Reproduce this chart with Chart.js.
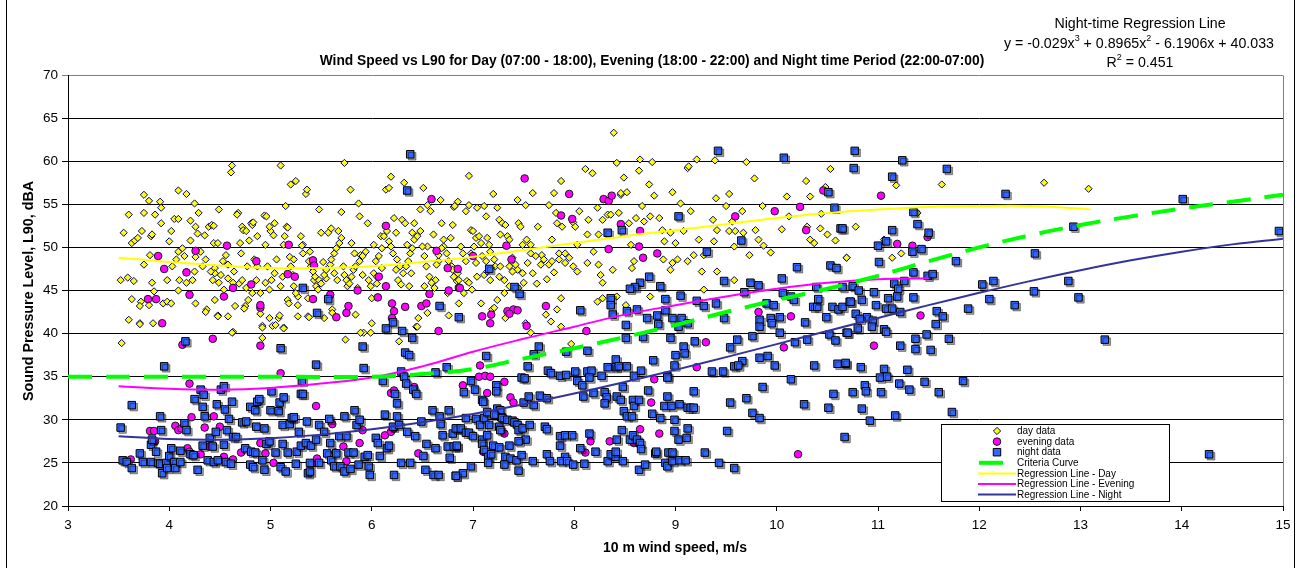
<!DOCTYPE html>
<html>
<head>
<meta charset="utf-8">
<title>Wind Speed vs L90</title>
<script src="https://cdn.jsdelivr.net/npm/chart.js@4.4.1/dist/chart.umd.min.js"></script>
<style>
  html, body { margin: 0; padding: 0; background: #fff; }
  #wrap { width: 1300px; height: 568px; position: relative; }
</style>
</head>
<body>
<div id="wrap"><canvas id="windChart" width="1300" height="568"></canvas></div>
<script>
// Dados: [velocidade do vento m/s, L90 dBA]
const dayData = [
  [3.53,38.9],[3.55,51.7],[3.52,46.2],[3.60,53.8],[3.59,46.5],[3.65,46.1],[3.63,50.5],[3.66,50.8],[3.69,51.1],[3.73,51.9],
  [3.75,56.1],[3.80,55.4],[3.75,54.0],[3.86,53.8],[3.91,55.3],[3.92,54.6],[3.82,51.3],[3.83,51.5],[3.81,49.1],[3.75,48.0],
  [3.72,43.7],[3.71,43.2],[3.63,44.0],[3.71,41.2],[3.60,41.6],[3.84,41.2],[3.83,45.9],[3.85,44.9],[3.80,43.3],[3.94,43.5],
  [3.92,52.8],[4.00,50.7],[4.02,51.9],[4.05,53.3],[4.09,56.6],[4.17,56.2],[4.09,53.3],[4.09,49.5],[4.10,46.2],[4.09,45.0],
  [3.98,46.2],[3.98,43.7],[4.02,43.5],[4.17,45.9],[4.17,47.2],[4.21,53.1],[4.25,55.1],[4.26,52.4],[4.28,51.6],[4.29,54.0],
  [4.21,50.8],[4.26,48.9],[4.25,47.2],[4.23,46.2],[4.26,43.5],[4.35,51.4],[4.36,48.6],[4.37,42.8],[4.39,52.4],[4.42,52.6],
  [4.44,52.5],[4.44,50.5],[4.48,50.5],[4.49,54.4],[4.45,47.6],[4.45,47.0],[4.45,43.9],[4.48,42.1],[4.51,46.8],[4.54,45.1],
  [4.56,49.1],[4.58,48.0],[4.58,46.4],[4.58,42.0],[4.62,59.5],[4.61,58.7],[4.63,40.2],[4.65,43.2],[4.68,54.0],[4.67,53.8],
  [4.69,45.8],[4.70,50.5],[4.72,52.4],[4.73,52.0],[4.75,43.2],[4.77,47.8],[4.79,50.8],[4.81,52.8],[4.82,52.6],[4.83,52.9],
  [4.78,43.9],[4.82,44.7],[4.87,47.8],[4.90,44.7],[4.90,42.3],[4.92,40.9],[4.92,39.5],[4.92,40.7],[4.94,53.7],[4.95,50.3],
  [4.96,53.6],[5.00,51.9],[5.03,51.4],[5.01,46.2],[4.95,45.9],[5.02,40.9],[5.08,41.8],[5.10,59.5],[5.09,42.1],[5.13,40.7],
  [5.13,50.3],[5.14,51.3],[5.16,52.4],[5.17,52.3],[5.20,57.3],[5.15,54.8],[5.17,43.9],[5.18,43.5],[5.19,48.9],[5.23,45.5],
  [5.25,57.7],[5.27,44.3],[5.30,51.3],[5.32,50.3],[5.35,56.2],[5.36,56.7],[5.37,44.1],[5.37,42.0],[5.39,49.5],[5.43,46.2],
  [5.45,45.5],[5.47,45.1],[5.48,54.4],[5.50,51.7],[5.52,48.3],[5.55,46.4],[5.57,51.7],[5.60,52.2],[5.61,42.8],[5.63,47.0],
  [5.66,46.2],[5.67,51.9],[5.70,54.1],[5.73,59.8],[5.74,39.3],[5.76,45.5],[5.79,56.7],[5.80,50.5],[5.83,49.3],[5.86,45.3],
  [5.87,55.1],[5.88,53.6],[5.89,49.1],[5.91,46.8],[5.92,40.1],[5.96,52.8],[5.99,40.1],[6.00,44.1],[6.02,50.3],[6.04,48.4],
  [6.05,45.8],[6.09,51.3],[6.10,47.6],[6.14,56.7],[6.17,56.9],[6.19,58.2],[6.22,53.4],[6.24,51.7],[6.25,48.6],[6.27,39.1],
  [6.28,47.8],[6.30,53.2],[6.32,57.5],[6.33,52.8],[6.35,50.3],[6.37,45.5],[6.39,47.0],[6.40,51.7],[6.42,52.8],[6.44,40.8],
  [6.46,41.8],[6.48,54.4],[6.51,56.9],[6.52,45.5],[6.55,54.9],[6.55,50.1],[6.58,54.2],[6.61,51.5],[6.63,46.2],[6.66,48.4],
  [6.68,55.5],[6.69,52.8],[6.71,50.1],[6.75,44.7],[6.76,42.1],[6.78,51.1],[6.81,54.7],[6.85,55.3],[6.86,43.5],
  [5.31,50.2],[5.32,49.3],[5.38,48.4],[5.40,47.8],[5.42,47.2],[5.44,46.6],[5.48,46.2],[5.50,45.8],[5.53,46.8],[5.55,47.4],
  [5.59,48.0],[5.60,48.6],[5.63,49.3],[5.65,49.9],[5.68,50.5],[5.70,51.1],[5.72,47.8],[5.73,46.8],[5.75,46.2],[5.78,45.8],
  [5.80,46.6],[5.82,47.4],[5.84,47.8],[5.88,48.4],[5.91,49.0],[5.94,49.5],[5.97,46.2],[5.99,45.5],[6.02,47.0],[6.05,46.6],
  [6.07,49.0],[6.10,49.9],[6.12,51.3],[6.15,51.9],[6.17,50.7],[6.19,50.1],[6.21,49.3],[6.24,47.4],[6.26,46.2],[6.29,45.7],
  [6.31,47.0],[6.34,47.8],[6.36,48.4],[6.38,49.3],[6.40,49.9],[6.42,50.9],[6.45,51.3],[6.48,51.9],[6.50,50.1],[6.52,49.0],
  [6.54,47.8],[6.57,46.6],[6.59,45.9],[6.62,45.3],[6.64,48.0],[6.66,49.1],[6.69,49.9],[6.71,50.9],[6.74,49.3],[6.76,48.4],
  [6.79,47.8],[6.81,46.6],[6.84,46.1],[6.86,45.5],
  [4.03,47.8],[4.07,48.6],[4.13,49.9],[4.15,49.0],[4.31,49.5],[4.33,47.8],[4.41,47.2],[4.43,46.2],[4.49,45.9],[4.53,48.4],
  [4.63,45.9],[4.64,47.2],[4.71,49.3],[4.72,46.2],[4.76,45.3],[4.84,48.6],[4.86,46.2],[4.97,47.8],[4.99,45.1],[5.04,47.0],
  [5.06,48.6],[5.10,45.5],[5.12,46.6],[5.20,47.8],[5.22,46.8],[5.23,48.6],[5.25,44.7],[5.27,43.3],[4.99,52.4],[5.04,52.8],
  [4.87,51.3],[4.76,51.9],
  [3.71,41.1],[4.62,40.1],[5.89,40.1],[6.45,40.8],[4.36,42.5],[4.48,42.0],[4.74,42.9],[4.99,41.8],[5.05,41.0],[5.13,40.6],
  [5.27,42.0],[5.38,41.9],[5.53,41.8],[5.61,42.4],[5.84,42.2],[6.00,41.2],[6.55,42.4],
  [6.80,52.6],[6.82,54.8],[6.93,54.2],[6.96,58.3],[6.96,54.9],[6.98,52.0],[7.00,51.9],[7.03,51.1],[7.04,54.6],[7.06,51.3],
  [7.08,50.5],[7.11,54.8],[7.13,53.6],[7.14,51.1],[7.16,50.3],[7.17,49.5],[7.20,56.2],[7.24,54.6],[7.26,53.2],[7.27,51.5],
  [7.29,52.8],[7.32,52.6],[7.34,51.3],[7.36,50.9],[7.39,48.8],[7.44,55.5],[7.45,52.8],[7.47,52.4],[7.49,50.3],[7.52,54.9],
  [7.53,50.9],[7.57,50.3],[7.59,56.3],[7.64,52.4],[7.68,49.1],[7.75,54.9],[7.78,50.9],[7.80,56.3],[7.82,54.0],[7.83,52.8],
  [7.85,49.3],[7.87,57.7],[7.88,52.4],[7.91,49.3],[7.95,48.8],[7.99,52.9],[8.01,52.4],[8.03,50.3],[8.05,54.2],[8.11,59.1],
  [8.13,51.5],[8.14,53.2],[8.18,58.6],[8.19,49.5],[8.23,54.6],[8.24,51.5],[8.28,53.2],[8.33,53.8],[8.36,53.8],[8.39,63.3],
  [8.42,59.8],[8.44,54.0],[8.46,56.1],[8.46,56.3],[8.49,58.1],[8.52,56.4],[8.54,52.8],[8.56,50.3],[8.61,53.4],[8.64,58.9],
  [8.65,60.2],[8.67,54.8],[8.69,53.0],[8.74,57.3],[8.75,53.6],[8.77,59.9],[8.79,56.0],[8.84,53.4],[8.87,52.0],[8.89,50.7],
  [8.95,51.7],[8.97,56.4],[9.00,50.5],[9.05,55.1],[9.08,51.9],[9.12,59.2],[9.13,59.4],[9.15,54.2],[9.21,60.2],[9.23,50.9],
  [9.28,49.1],[9.37,53.2],[9.38,50.7],[9.39,60.1],[9.40,55.7],[9.41,52.0],[9.50,54.8],[9.53,51.9],[9.53,56.2],[9.56,53.0],
  [9.58,50.1],[9.59,51.9],[9.66,54.2],[9.67,51.7],[9.70,59.9],[9.73,49.1],[9.78,58.0],[9.79,52.0],[9.82,50.9],[9.86,54.8],
  [9.87,50.2],[9.94,49.4],[10.05,52.1],[10.10,55.9],[10.12,53.6],[10.29,57.7],[10.30,52.4],[10.33,55.9],[10.33,50.9],[10.37,50.5],
  [10.43,52.2],[10.44,53.9],[10.48,57.0],[10.50,51.5],[10.53,59.1],[10.58,50.8],[10.69,48.8],
  [6.80,47.4],[6.85,47.0],[6.86,46.2],[6.91,44.7],[6.94,46.1],[6.96,45.9],[6.99,45.1],[7.03,48.2],[7.04,46.6],[7.08,43.5],
  [7.11,46.8],[7.13,48.4],[7.14,47.2],[7.19,42.8],[7.21,43.0],[7.24,43.9],[7.26,46.6],[7.31,44.7],[7.32,41.8],[7.36,45.5],
  [7.44,47.4],[7.45,45.3],[7.50,45.9],[7.52,41.2],[7.57,40.1],[7.59,47.0],[7.63,45.8],[7.72,42.2],[7.73,46.3],[7.77,41.4],
  [7.80,47.1],[7.83,42.8],[7.85,48.6],[7.87,40.8],[7.87,44.1],[7.91,48.2],[7.99,47.8],[8.03,47.2],[8.13,48.2],[8.23,43.7],
  [8.24,48.0],[8.26,46.8],[8.28,45.9],[8.28,44.1],[8.38,47.4],[8.42,44.3],[8.51,43.3],[8.57,47.6],[8.59,48.4],[8.75,44.3],
  [8.88,48.6],[8.95,47.4],[8.97,48.2],[9.02,48.6],[9.12,48.4],[9.18,49.1],[9.26,47.2],[9.28,45.1],[9.41,47.2],[9.58,46.2],
  [7.97,38.8],
  [6.88,50.1],[6.90,49.3],[7.01,50.1],[7.09,49.0],[7.21,48.6],[7.22,47.8],[7.27,47.8],[7.36,47.8],[7.39,47.2],[7.42,48.0],
  [7.54,48.2],[7.57,49.3],[7.62,49.0],[7.67,48.0],[7.70,48.6],[7.75,48.0],[7.78,48.4],[6.98,49.3],[6.93,48.4],[7.17,46.2],
  [7.31,46.2],[7.49,47.0],
  [11.18,57.2],[11.63,57.3],[12.64,57.5],[13.08,56.8],[10.78,52.4],[11.39,54.0],[10.69,48.8],[11.14,48.8],[11.23,49.3],[11.06,50.9]
];

const eveningData = [
  [3.89,49.0],[3.95,47.5],[3.79,44.0],[3.87,44.0],[3.93,41.2],[4.20,44.5],[4.17,47.1],[4.26,49.6],[4.13,38.7],[4.43,39.4],
  [4.54,44.3],[4.57,50.2],[4.63,45.3],[4.81,45.7],[4.86,48.4],[4.90,43.0],[4.90,43.3],[4.90,38.6],[5.10,35.4],[5.18,50.3],
  [5.17,46.9],[5.24,46.6],[5.42,48.5],[5.43,47.9],[5.42,44.0],[5.59,44.5],[5.65,41.9],[5.75,42.4],[5.77,43.2],[5.86,45.0],
  [6.07,46.6],[6.06,44.2],[6.14,52.5],[6.14,45.5],[6.20,43.5],[6.22,42.6],[6.20,41.8],[6.33,43.1],[6.49,43.2],[6.54,43.5],
  [6.57,44.6],[6.59,55.6],[6.64,49.6],[6.66,40.3],[6.76,45.0],[6.75,47.6],[6.86,45.3],
  [3.62,25.4],[3.81,28.7],[3.85,28.7],[3.86,27.5],[4.06,29.3],[4.09,28.8],[4.12,29.0],[4.20,34.2],[4.22,30.3],[4.18,26.7],
  [4.20,26.3],[4.31,26.0],[4.35,29.1],[4.44,30.4],[4.50,29.2],[4.54,25.7],[4.39,26.9],[4.71,26.2],[4.63,25.4],[4.90,27.3],
  [4.95,26.1],[5.03,25.0],[5.45,31.6],[5.43,25.0],[5.46,25.5],[5.61,29.5],[5.64,26.2],[5.72,26.9],[5.75,25.2],[5.91,28.8],
  [5.88,27.3],[6.13,28.2],[6.19,33.1],[6.22,33.4],[6.42,33.8],[6.46,26.1],[6.19,28.6],[6.22,29.0],
  [7.51,58.0],[7.95,56.2],[8.29,55.6],[8.34,55.4],[8.37,56.0],[7.87,53.7],[7.98,53.3],[8.46,52.7],[8.65,51.9],[7.33,50.2],
  [7.38,48.6],[7.00,49.0],[8.34,49.8],[8.64,50.1],[8.68,48.8],[8.82,49.3],[6.85,47.5],[6.87,45.3],[7.34,42.6],[7.40,42.8],
  [7.44,42.7],[7.36,42.3],[7.18,42.2],[7.17,41.2],[7.09,42.0],[7.53,40.9],[7.72,43.2],[8.12,40.3],[7.07,36.3],[9.98,54.2],
  [10.23,54.7],[9.59,53.6],[10.29,52.0],[10.46,56.6],[9.82,42.5],[10.14,42.0],[9.30,39.0],[10.07,38.4],[9.21,36.1],
  [6.90,34.0],[7.06,35.0],[7.12,35.1],[7.17,35.0],[7.14,33.1],[7.31,34.4],[7.37,32.6],[7.40,32.0],[7.31,28.4],[7.10,26.3],
  [8.16,27.5],[8.11,26.2],[8.35,27.5],[8.59,27.3],[8.65,28.9],[8.84,28.4],[8.76,32.0],[8.79,34.7],[10.21,26.0],
  [11.03,56.0],[11.19,50.4],[11.34,50.2],[11.49,51.2],[11.42,42.1],[10.96,38.6]
];

const nightData = [
  [3.52,29.1],[3.54,25.3],[3.58,25.1],[3.63,24.4],[3.63,31.7],[3.71,26.1],[3.74,25.1],[3.82,25.1],[3.82,27.1],[3.83,27.7],
  [3.87,26.3],[3.89,25.0],[3.91,24.9],[3.92,28.8],[3.91,30.4],[3.93,23.8],[3.95,36.2],[3.97,25.0],[3.98,24.4],[4.00,25.8],
  [4.02,26.7],[4.05,25.1],[4.06,24.4],[4.11,25.1],[4.11,26.4],[4.15,29.6],[4.16,39.1],[4.17,28.8],[4.21,26.0],[4.24,25.9],
  [4.25,32.4],[4.28,24.2],[4.31,33.5],[4.33,27.0],[4.33,31.5],[4.34,32.9],[4.35,30.4],[4.38,25.3],[4.40,27.9],[4.43,26.9],
  [4.44,25.1],[4.47,31.8],[4.46,28.6],[4.48,25.3],[4.51,33.5],[4.54,27.1],[4.54,33.9],[4.55,31.2],[4.56,25.1],[4.57,28.8],
  [4.59,30.1],[4.61,24.9],[4.62,32.1],[4.63,28.0],[4.66,28.0],[4.72,29.7],[4.75,26.7],[4.76,29.8],[4.80,24.8],[4.80,31.5],
  [4.81,26.3],[4.83,24.5],[4.85,26.2],[4.85,31.1],[4.86,29.2],[4.87,32.1],[4.89,32.4],[4.92,25.3],[4.94,24.2],[4.94,29.0],
  [4.96,27.2],[4.99,27.5],[5.00,31.1],[5.01,33.3],[5.05,26.2],[5.08,31.0],[5.09,32.0],[5.10,38.3],[5.10,24.5],[5.12,29.4],
  [5.12,27.2],[5.13,32.6],[5.15,24.0],[5.17,26.2],[5.19,29.5],[5.21,30.2],[5.23,30.3],[5.25,24.9],[5.26,26.3],[5.28,28.6],
  [5.30,27.0],[5.30,33.0],[5.32,33.0],[5.31,34.5],[5.35,27.3],[5.36,29.8],[5.37,23.8],[5.39,24.0],[5.39,25.0],[5.40,27.0],
  [5.45,27.7],[5.45,36.4],[5.46,42.4],[5.48,29.4],[5.48,25.0],[5.53,28.6],[5.56,26.1],[5.58,30.1],[5.59,27.3],[5.60,25.3],
  [5.63,24.6],[5.65,26.1],[5.68,28.1],[5.69,24.6],[5.73,30.4],[5.73,24.0],[5.75,28.1],[5.77,26.2],[5.79,24.3],[5.82,26.2],
  [5.83,31.1],[5.85,29.4],[5.87,24.8],[5.88,30.0],[5.91,38.5],[5.92,36.0],[5.93,25.7],[5.96,25.9],[5.97,24.6],[5.98,23.6],
  [6.04,27.9],[6.06,27.3],[6.08,25.8],[6.11,34.5],[6.13,30.6],[6.14,40.6],[6.15,26.7],[6.17,27.0],[6.21,29.2],[6.22,23.6],
  [6.23,33.0],[6.25,31.9],[6.25,30.4],[6.27,29.4],[6.29,25.0],[6.29,35.6],[6.30,40.3],[6.32,35.0],[6.33,37.8],[6.34,34.2],
  [6.35,28.6],[6.37,37.5],[6.38,25.0],[6.40,39.5],[6.41,33.5],[6.43,28.1],[6.44,33.0],[6.49,29.8],[6.51,25.8],[6.54,27.2],
  [6.53,24.2],[6.60,31.1],[6.61,23.6],[6.63,26.7],[6.66,23.6],[6.67,30.4],[6.68,29.5],[6.67,43.2],[6.70,28.2],[6.75,26.9],
  [6.76,31.1],[6.77,25.6],[6.83,23.5],[6.84,29.0],[6.84,26.9],
  [6.38,60.8],[6.35,56.6],[5.32,45.3],[5.57,44.0],[6.21,41.3],[6.74,36.1],[6.63,35.5],[6.86,41.9],
  [9.42,61.2],[10.07,60.4],[10.51,56.4],[10.57,54.6],[10.63,52.2],[9.03,53.6],[8.33,51.7],[8.47,52.0],[9.65,50.8],[9.31,49.5],
  [7.16,47.5],[10.20,47.7],[10.53,47.9],[10.59,47.6],[8.74,46.6],[8.65,45.9],[8.60,45.4],[8.55,45.2],[8.85,45.5],[9.48,46.1],
  [9.74,45.9],[9.82,45.6],[10.05,46.4],[10.39,45.4],[10.65,45.4],[7.41,45.4],[7.46,44.6],[8.36,44.1],[8.36,43.3],[8.38,42.2],
  [8.06,42.7],[8.52,42.6],[8.62,42.8],[8.90,44.0],[8.90,42.7],[9.05,44.4],[9.21,43.8],[9.28,43.2],[9.40,43.5],[9.68,44.8],
  [9.90,43.5],[9.97,43.3],[10.06,44.7],[10.14,44.3],[10.17,43.9],[10.36,43.1],[10.40,43.1],[10.41,44.0],[10.55,43.1],[10.61,42.8],
  [10.65,43.1],[10.72,43.7],[8.72,41.8],[8.82,42.1],[8.83,41.1],[8.97,41.8],[9.06,41.8],[9.12,41.2],[9.03,40.8],[9.48,41.8],
  [9.83,41.6],[9.83,40.8],[9.94,41.8],[9.95,41.2],[10.03,41.9],[10.28,41.3],[10.49,41.9],[8.51,41.0],[8.51,39.5],[8.68,39.6],
  [8.95,39.5],[9.19,39.1],[9.76,39.7],[10.03,40.1],[10.30,39.3],[10.52,39.9],[10.58,39.2],[10.69,40.1],[7.13,37.4],[7.60,37.6],
  [7.65,38.5],[7.92,37.9],[8.13,38.0],[8.41,37.0],[8.41,36.1],[8.78,36.9],[9.00,37.5],[9.08,38.5],[9.09,37.7],[9.54,38.4],
  [9.61,39.3],[9.66,36.8],[9.83,37.2],[9.91,37.4],[9.98,36.3],[10.18,39.0],[10.60,36.5],[10.68,36.5],[10.37,36.3],[7.54,36.2],
  [7.74,35.7],[7.77,35.4],[7.86,35.1],[7.92,35.2],[8.01,35.6],[8.13,35.6],[8.17,35.7],[8.27,35.1],[8.33,36.1],[8.44,36.2],
  [8.52,36.2],[8.59,35.1],[8.66,35.7],[8.92,35.1],[8.99,36.3],[9.36,35.6],[9.47,35.6],[9.58,36.2],[9.62,36.3],
  [6.98,34.5],[6.91,33.2],[7.02,33.5],[7.09,32.3],[7.10,32.1],[7.23,34.0],[7.23,33.3],[7.24,31.3],[7.27,31.1],[7.28,30.3],
  [7.48,34.9],[7.51,34.8],[7.50,32.0],[7.55,32.7],[7.60,31.7],[7.66,32.8],[7.73,32.5],[8.03,34.5],[8.08,34.0],[8.09,32.7],
  [8.15,34.9],[8.19,33.1],[8.30,33.2],[8.32,32.6],[8.30,31.9],[8.42,32.7],[8.46,32.3],[8.48,33.8],[8.49,31.0],[8.52,30.4],
  [8.57,30.4],[8.58,32.3],[8.59,31.6],[8.64,32.3],[8.73,33.4],[8.77,30.7],[8.85,30.2],[8.89,31.6],[8.92,34.9],[8.92,32.7],
  [8.96,31.6],[8.99,30.0],[9.04,31.8],[9.12,31.4],[9.15,31.4],[9.18,31.4],[9.18,33.3],[9.54,32.0],[9.70,32.5],[9.76,30.8],
  [9.83,30.2],[9.86,33.8],[10.14,34.7],[10.27,31.8],[10.51,31.4],[10.56,33.0],[10.67,28.0],
  [6.80,28.4],[6.83,29.0],[6.88,29.0],[6.93,28.5],[6.96,28.5],[7.00,28.1],[6.81,26.9],[6.84,27.0],[6.93,30.2],[7.03,30.1],
  [7.07,29.4],[7.11,30.2],[7.14,30.9],[7.16,29.4],[7.21,30.6],[7.26,29.2],[7.27,28.8],[7.29,30.2],[7.34,30.0],[7.39,29.9],
  [7.41,29.7],[7.44,29.4],[7.45,28.8],[7.49,29.0],[7.52,27.7],[7.56,29.4],[7.09,27.7],[7.14,28.2],[7.09,27.2],[7.20,27.0],
  [7.26,26.8],[7.36,27.0],[7.45,27.5],[7.11,26.5],[7.15,25.7],[7.18,26.0],[7.32,25.7],[7.37,25.5],[7.43,25.3],[7.48,25.9],
  [7.31,24.8],[7.15,25.0],[7.45,24.1],[6.98,24.6],[6.90,23.8],[6.83,23.5],[7.59,25.2],[7.71,29.2],[7.73,28.9],[7.73,26.0],
  [7.76,25.2],[7.86,27.0],[7.86,28.1],[7.91,28.2],[7.98,28.2],[7.91,25.7],[7.87,25.2],[7.93,25.2],[7.99,24.8],[8.06,26.7],
  [8.10,24.9],[8.15,28.4],[8.21,26.3],[8.33,25.2],[8.36,26.0],[8.41,25.7],[8.41,26.3],[8.42,27.7],[8.47,28.8],[8.48,25.2],
  [8.55,27.7],[8.58,28.2],[8.62,27.7],[8.65,27.3],[8.66,26.6],[8.64,24.2],[8.70,24.8],[8.80,26.1],[8.81,26.3],[8.90,25.0],
  [8.92,24.6],[8.93,26.2],[8.97,25.2],[8.97,26.2],[8.99,28.7],[9.03,27.7],[9.04,25.3],[9.10,25.3],[9.11,27.9],[9.12,29.0],
  [9.29,26.2],[9.43,25.0],[9.51,28.7],[9.58,24.4],
  [10.77,61.2],[10.76,59.2],[11.24,60.1],[11.14,58.2],[11.68,59.1],[12.26,56.2],[14.01,55.6],[11.35,54.1],[11.39,52.7],[10.65,52.2],
  [11.14,52.0],[11.50,51.7],[11.08,50.7],[11.00,50.2],[11.34,49.5],[11.43,49.8],[11.01,48.3],[11.77,48.4],[12.93,52.4],[14.96,51.9],
  [12.55,49.3],[11.35,47.1],[11.49,46.7],[11.54,46.9],[11.16,45.8],[11.26,46.1],[11.20,45.2],[10.75,45.5],[10.81,45.0],[10.96,44.8],
  [11.19,44.3],[11.10,44.1],[11.35,44.2],[12.03,45.7],[12.14,46.1],[12.10,44.0],[12.54,44.9],[12.88,46.1],[12.98,44.2],[12.35,43.3],
  [11.89,42.9],[10.73,43.7],[10.84,43.9],[10.98,43.3],[11.08,42.9],[11.14,42.9],[11.22,42.5],[11.58,42.6],[11.64,42.0],[10.78,42.3],
  [10.89,41.9],[10.82,41.7],[10.95,41.5],[11.57,41.1],[10.80,40.6],[10.94,40.8],[11.06,40.5],[11.08,40.2],[10.70,40.1],[11.37,39.4],
  [11.48,39.9],[11.70,39.4],[13.24,39.3],[11.22,38.6],[11.37,38.2],[11.52,38.1],[10.68,36.6],[10.83,36.1],[11.06,35.9],[11.29,35.8],
  [11.02,34.9],[11.09,35.0],[11.21,34.2],[10.87,34.0],[10.75,33.2],[10.88,33.3],[11.03,33.2],[11.31,33.5],[11.46,34.4],[11.60,33.2],
  [11.84,34.5],[10.84,31.3],[11.73,30.9],[10.92,29.9],[11.17,30.5],[14.27,26.0]
];

// Linhas de regressão e curva de critério
const dayRegX = [3.5, 4, 4.5, 5, 5.5, 6, 6.5, 7, 7.5, 8, 8.5, 9, 9.5, 10, 10.5, 11, 11.5, 12, 12.5, 13, 13.1];
const dayRegY = [48.8, 48.3, 47.9, 47.6, 47.6, 47.8, 48.3, 48.9, 49.7, 50.5, 51.3, 52.0, 52.7, 53.4, 54.0, 54.4, 54.7, 54.8, 54.8, 54.5, 54.4];
const eveningRegX = [3.5, 4, 4.5, 5, 5.5, 6, 6.5, 7, 7.5, 8, 8.5, 9, 9.5, 10, 10.5, 11, 11.5];
const eveningRegY = [33.9, 33.6, 33.5, 33.7, 34.2, 34.9, 36.2, 37.9, 39.4, 40.8, 42.2, 43.3, 44.3, 45.2, 45.9, 46.3, 46.4];
const nightRegX = [3.5, 4, 4.5, 5, 5.5, 6, 6.5, 7, 7.5, 8, 8.5, 9, 9.5, 10, 10.5, 11, 11.5, 12, 12.5, 13, 13.5, 14, 14.5, 15];
const nightRegY = [28.1, 27.76, 27.69, 27.87, 28.28, 28.9, 29.71, 30.68, 31.8, 33.04, 34.38, 35.79, 37.27, 38.78, 40.3, 41.81, 43.3, 44.73, 46.09, 47.35, 48.5, 49.5, 50.35, 51.01];
const criteriaX = [3, 4, 5, 6, 6.5, 7, 7.5, 8, 8.5, 9, 9.5, 10, 10.5, 11, 11.5, 12, 12.5, 13, 13.5, 14, 14.5, 15];
const criteriaY = [35, 35, 35, 35, 35.3, 35.9, 37.1, 38.3, 39.6, 41.0, 42.5, 43.9, 45.2, 46.7, 48.4, 50.0, 51.4, 52.6, 53.6, 54.5, 55.3, 56.1];

const xTicks = [3, 4, 5, 6, 7, 8, 9, 10, 11, 12, 13, 14, 15];
const yTicks = [20, 25, 30, 35, 40, 45, 50, 55, 60, 65, 70];

const chartTitle = 'Wind Speed vs L90 for Day (07:00 - 18:00), Evening (18:00 - 22:00) and Night time Period (22:00-07:00)';
const xTitle = '10 m wind speed, m/s';
const yTitle = 'Sound Pressure Level, L90, dBA';

const FONT = '"Liberation Sans", Arial, Helvetica, sans-serif';

function toPoints(pairs) {
    return pairs.map(p => ({ x: p[0], y: p[1] }));
}
function zipPoints(xs, ys) {
    return xs.map((x, i) => ({ x: x, y: ys[i] }));
}

/**
 * Desenha um texto com partes sobrescritas, centralizado em cx
 */
function drawRich(ctx, parts, cx, y, size) {
    const normal = size + 'px ' + FONT;
    const small = Math.round(size * 0.66) + 'px ' + FONT;
    let total = 0;
    parts.forEach(p => {
        ctx.font = p.sup ? small : normal;
        total += ctx.measureText(p.t).width;
    });
    let x = cx - total / 2;
    ctx.textAlign = 'left';
    parts.forEach(p => {
        ctx.font = p.sup ? small : normal;
        ctx.fillText(p.t, x, p.sup ? y - size * 0.38 : y);
        x += ctx.measureText(p.t).width;
    });
}

function drawMarker(ctx, style, x, y, r, fill, stroke) {
    ctx.save();
    ctx.fillStyle = fill;
    ctx.strokeStyle = stroke;
    ctx.lineWidth = 1;
    ctx.beginPath();
    if (style === 'rectRot') {
        ctx.moveTo(x, y - r); ctx.lineTo(x + r, y); ctx.lineTo(x, y + r); ctx.lineTo(x - r, y); ctx.closePath();
    } else if (style === 'rect') {
        const s = r * Math.SQRT1_2;
        ctx.rect(x - s, y - s, 2 * s, 2 * s);
    } else {
        ctx.arc(x, y, r, 0, Math.PI * 2);
    }
    ctx.fill();
    ctx.stroke();
    ctx.restore();
}

// Plugin com títulos, anotação, legenda interna e bordas
const decorPlugin = {
    id: 'decor',
    beforeDatasetsDraw(chart) {
        const ctx = chart.ctx;
        const a = chart.chartArea;
        ctx.save();
        ctx.strokeStyle = '#808080';
        ctx.lineWidth = 1;
        ctx.beginPath();
        ctx.moveTo(Math.round(a.right) + 0.5, Math.round(a.top) + 0.5);
        ctx.lineTo(Math.round(a.right) + 0.5, Math.round(a.bottom));
        ctx.stroke();
        ctx.restore();
    },
    beforeDatasetDraw(chart, args) {
        if (chart.data.datasets[args.index].shadow) {
            const ctx = chart.ctx;
            ctx.save();
            ctx.shadowColor = 'rgba(0,0,0,0.38)';
            ctx.shadowOffsetX = 2;
            ctx.shadowOffsetY = 2;
            ctx.shadowBlur = 0;
        }
    },
    afterDatasetDraw(chart, args) {
        if (chart.data.datasets[args.index].shadow) chart.ctx.restore();
    },
    afterDatasetsDraw(chart) {
        const ctx = chart.ctx;
        const ds = chart.data.datasets;
        // legenda dentro da área do gráfico
        const bx = 941.5, by = 424.5, bw = 228, bh = 77;
        ctx.save();
        ctx.fillStyle = '#fff';
        ctx.fillRect(bx, by, bw, bh);
        ctx.strokeStyle = '#000';
        ctx.lineWidth = 1;
        ctx.strokeRect(bx, by, bw, bh);
        ctx.font = '10px ' + FONT;
        ctx.textBaseline = 'middle';
        ctx.textAlign = 'left';
        const legendOrder = [0, 1, 2, 3, 4, 5, 6];
        legendOrder.forEach((idx, row) => {
            const d = ds[idx];
            const y = 431 + row * 10.6;
            if (d.showLine) {
                ctx.strokeStyle = d.borderColor;
                ctx.lineWidth = d.borderWidth;
                ctx.setLineDash([]);
                ctx.beginPath();
                if (d.borderDash && d.borderDash.length) {
                    ctx.moveTo(979, y); ctx.lineTo(1003, y);
                } else {
                    ctx.moveTo(978, y); ctx.lineTo(1016, y);
                }
                ctx.stroke();
            } else {
                drawMarker(ctx, d.pointStyle, 997, y, d.pointRadius, d.backgroundColor, d.borderColor);
            }
            ctx.fillStyle = '#000';
            ctx.fillText(d.label, 1017, y + 0.5);
        });
        ctx.restore();
    },
    afterDraw(chart) {
        const ctx = chart.ctx;
        ctx.save();
        ctx.fillStyle = '#000';
        ctx.textBaseline = 'middle';
        ctx.textAlign = 'center';

        ctx.font = 'bold 13.8px ' + FONT;
        ctx.fillText(chartTitle, 652, 61);

        ctx.font = 'bold 14px ' + FONT;
        ctx.fillText(xTitle, 675, 548);

        ctx.save();
        ctx.translate(29, 291);
        ctx.rotate(-Math.PI / 2);
        ctx.font = 'bold 14.3px ' + FONT;
        ctx.fillText(yTitle, 0, 0);
        ctx.restore();

        // anotação da regressão noturna
        ctx.font = '14.2px ' + FONT;
        ctx.fillText('Night-time Regression Line', 1140, 24);
        drawRich(ctx, [
            { t: 'y = -0.029x' }, { t: '3', sup: true },
            { t: ' + 0.8965x' }, { t: '2', sup: true },
            { t: ' - 6.1906x + 40.033' }
        ], 1139, 44, 14.2);
        drawRich(ctx, [{ t: 'R' }, { t: '2', sup: true }, { t: ' = 0.451' }], 1140, 63, 14.2);

        // borda externa
        ctx.strokeStyle = '#000';
        ctx.lineWidth = 1;
        ctx.beginPath();
        ctx.moveTo(6.5, 0); ctx.lineTo(6.5, 568);
        ctx.moveTo(1294.5, 0); ctx.lineTo(1294.5, 568);
        ctx.stroke();
        ctx.restore();
    }
};

document.addEventListener('DOMContentLoaded', function() {
    initWindChart();
});

/**
 * Inicializa o gráfico de dispersão (vento x L90)
 */
function initWindChart() {
    const ctx = document.getElementById('windChart');
    if (!ctx) return;

    Chart.defaults.font.family = FONT;
    Chart.defaults.color = '#000';

    new Chart(ctx, {
        type: 'scatter',
        data: {
            datasets: [{
                label: 'day data',
                data: toPoints(dayData),
                pointStyle: 'rectRot',
                pointRadius: 3.6,
                backgroundColor: '#ffff00',
                borderColor: '#000080',
                borderWidth: 1,
                order: 3
            }, {
                label: 'evening data',
                data: toPoints(eveningData),
                pointStyle: 'circle',
                pointRadius: 3.8,
                backgroundColor: '#ff00ff',
                borderColor: '#1a1a1a',
                borderWidth: 1,
                order: 2
            }, {
                label: 'night data',
                data: toPoints(nightData),
                pointStyle: 'rect',
                pointRadius: 5.3,
                backgroundColor: '#3366ff',
                borderColor: '#000000',
                borderWidth: 1,
                shadow: true,
                order: 1
            }, {
                label: 'Criteria Curve',
                data: zipPoints(criteriaX, criteriaY),
                showLine: true,
                borderColor: '#00ff00',
                backgroundColor: '#00ff00',
                borderWidth: 4,
                borderDash: [24, 14],
                pointRadius: 0,
                tension: 0.4,
                order: 0
            }, {
                label: 'Regression Line - Day',
                data: zipPoints(dayRegX, dayRegY),
                showLine: true,
                borderColor: '#ffff00',
                backgroundColor: '#ffff00',
                borderWidth: 2,
                pointRadius: 0,
                tension: 0.4,
                order: 0
            }, {
                label: 'Regression Line - Evening',
                data: zipPoints(eveningRegX, eveningRegY),
                showLine: true,
                borderColor: '#ff00ff',
                backgroundColor: '#ff00ff',
                borderWidth: 2,
                pointRadius: 0,
                tension: 0.4,
                order: 0
            }, {
                label: 'Regression Line - Night',
                data: zipPoints(nightRegX, nightRegY),
                showLine: true,
                borderColor: '#333399',
                backgroundColor: '#333399',
                borderWidth: 2,
                pointRadius: 0,
                tension: 0.4,
                order: 0
            }]
        },
        options: {
            responsive: false,
            animation: false,
            devicePixelRatio: 1,
            layout: {
                padding: { left: 7, right: 17, top: 75, bottom: 0 }
            },
            plugins: {
                legend: { display: false },
                title: { display: false },
                tooltip: { enabled: false }
            },
            scales: {
                x: {
                    type: 'linear',
                    min: xTicks[0],
                    max: xTicks[xTicks.length - 1],
                    afterBuildTicks: s => { s.ticks = xTicks.map(v => ({ value: v })); },
                    ticks: { padding: 6, font: { size: 13.5 }, color: '#000', maxRotation: 0 },
                    grid: { drawOnChartArea: false, color: '#000', tickLength: 5 },
                    border: { color: '#000', width: 1 },
                    afterFit: s => { s.height = 62; }
                },
                y: {
                    type: 'linear',
                    min: yTicks[0],
                    max: yTicks[yTicks.length - 1],
                    afterBuildTicks: s => { s.ticks = yTicks.map(v => ({ value: v })); },
                    ticks: { padding: 4, font: { size: 13.5 }, color: '#000' },
                    grid: {
                        color: c => (c.tick && c.tick.value === 70 ? '#808080' : '#000'),
                        tickLength: 6
                    },
                    border: { color: '#000', width: 1 },
                    afterFit: s => { s.width = 61; }
                }
            }
        },
        plugins: [decorPlugin]
    });
}
</script>
</body>
</html>
